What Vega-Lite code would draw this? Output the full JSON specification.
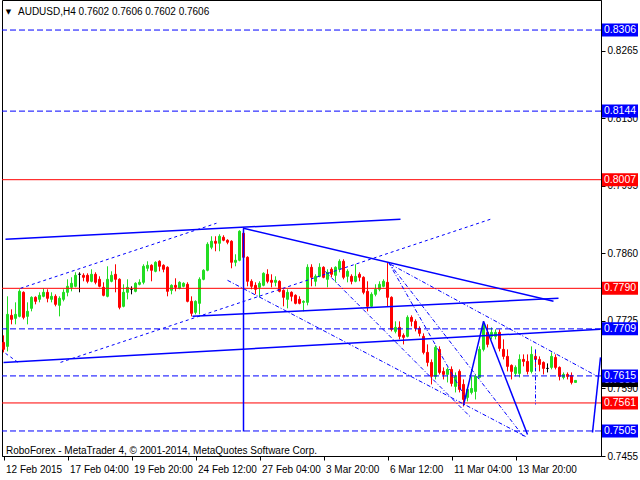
{
  "$schema": "https://vega.github.io/schema/vega-lite/v6.json",
  "width": 599,
  "height": 456,
  "autosize": {"type": "none"},
  "padding": {"left": 2, "top": 0, "right": 39, "bottom": 24},
  "background": "#ffffff",
  "config": {
    "view": {"stroke": "#000000", "strokeWidth": 1},
    "font": "Liberation Sans",
    "axis": {"labelFont": "Liberation Sans", "labelFontSize": 10, "labelColor": "#000000", "tickColor": "#000000", "domainColor": "#000000", "grid": false}
  },
  "datasets": {
    "bars": [
      {"i":0,"o":0.7682,"h":0.7696,"l":0.7662,"c":0.7668},
      {"i":1,"o":0.7674,"h":0.7774,"l":0.7664,"c":0.7738},
      {"i":2,"o":0.7736,"h":0.7748,"l":0.7718,"c":0.7728},
      {"i":3,"o":0.7730,"h":0.7762,"l":0.7718,"c":0.7738},
      {"i":4,"o":0.7734,"h":0.7788,"l":0.7732,"c":0.7784},
      {"i":5,"o":0.7782,"h":0.7784,"l":0.7728,"c":0.7732},
      {"i":6,"o":0.7734,"h":0.7762,"l":0.7718,"c":0.7744},
      {"i":7,"o":0.7750,"h":0.7774,"l":0.7744,"c":0.7772},
      {"i":8,"o":0.7772,"h":0.7774,"l":0.7758,"c":0.7764},
      {"i":9,"o":0.7768,"h":0.7782,"l":0.7762,"c":0.7776},
      {"i":10,"o":0.7774,"h":0.7790,"l":0.7772,"c":0.7782},
      {"i":11,"o":0.7782,"h":0.7788,"l":0.7762,"c":0.7770},
      {"i":12,"o":0.7768,"h":0.7782,"l":0.7762,"c":0.7774},
      {"i":13,"o":0.7774,"h":0.7778,"l":0.7754,"c":0.7758},
      {"i":14,"o":0.7756,"h":0.7774,"l":0.7734,"c":0.7770},
      {"i":15,"o":0.7768,"h":0.7788,"l":0.7764,"c":0.7782},
      {"i":16,"o":0.7782,"h":0.7808,"l":0.7774,"c":0.7794},
      {"i":17,"o":0.7792,"h":0.7812,"l":0.7784,"c":0.7800},
      {"i":18,"o":0.7794,"h":0.7822,"l":0.7792,"c":0.7816},
      {"i":19,"o":0.7818,"h":0.7822,"l":0.7782,"c":0.7818},
      {"i":20,"o":0.7816,"h":0.7820,"l":0.7804,"c":0.7812},
      {"i":21,"o":0.7816,"h":0.7820,"l":0.7800,"c":0.7804},
      {"i":22,"o":0.7804,"h":0.7828,"l":0.7802,"c":0.7818},
      {"i":23,"o":0.7818,"h":0.7822,"l":0.7798,"c":0.7802},
      {"i":24,"o":0.7808,"h":0.7814,"l":0.7792,"c":0.7794},
      {"i":25,"o":0.7792,"h":0.7802,"l":0.7774,"c":0.7776},
      {"i":26,"o":0.7774,"h":0.7834,"l":0.7772,"c":0.7808},
      {"i":27,"o":0.7804,"h":0.7824,"l":0.7802,"c":0.7816},
      {"i":28,"o":0.7818,"h":0.7838,"l":0.7782,"c":0.7808},
      {"i":29,"o":0.7808,"h":0.7810,"l":0.7748,"c":0.7752},
      {"i":30,"o":0.7754,"h":0.7798,"l":0.7752,"c":0.7782},
      {"i":31,"o":0.7782,"h":0.7808,"l":0.7768,"c":0.7792},
      {"i":32,"o":0.7788,"h":0.7794,"l":0.7778,"c":0.7788},
      {"i":33,"o":0.7784,"h":0.7802,"l":0.7782,"c":0.7800},
      {"i":34,"o":0.7798,"h":0.7808,"l":0.7796,"c":0.7802},
      {"i":35,"o":0.7802,"h":0.7838,"l":0.7798,"c":0.7834},
      {"i":36,"o":0.7830,"h":0.7844,"l":0.7824,"c":0.7836},
      {"i":37,"o":0.7836,"h":0.7838,"l":0.7804,"c":0.7826},
      {"i":38,"o":0.7824,"h":0.7844,"l":0.7822,"c":0.7842},
      {"i":39,"o":0.7844,"h":0.7846,"l":0.7824,"c":0.7834},
      {"i":40,"o":0.7836,"h":0.7838,"l":0.7822,"c":0.7828},
      {"i":41,"o":0.7832,"h":0.7834,"l":0.7774,"c":0.7784},
      {"i":42,"o":0.7786,"h":0.7798,"l":0.7778,"c":0.7796},
      {"i":43,"o":0.7796,"h":0.7810,"l":0.7784,"c":0.7792},
      {"i":44,"o":0.7790,"h":0.7804,"l":0.7788,"c":0.7802},
      {"i":45,"o":0.7794,"h":0.7802,"l":0.7792,"c":0.7800},
      {"i":46,"o":0.7798,"h":0.7802,"l":0.7762,"c":0.7764},
      {"i":47,"o":0.7764,"h":0.7774,"l":0.7734,"c":0.7740},
      {"i":48,"o":0.7742,"h":0.7766,"l":0.7738,"c":0.7764},
      {"i":49,"o":0.7760,"h":0.7812,"l":0.7738,"c":0.7808},
      {"i":50,"o":0.7808,"h":0.7828,"l":0.7806,"c":0.7826},
      {"i":51,"o":0.7826,"h":0.7882,"l":0.7824,"c":0.7878},
      {"i":52,"o":0.7872,"h":0.7894,"l":0.7868,"c":0.7884},
      {"i":53,"o":0.7884,"h":0.7894,"l":0.7864,"c":0.7880},
      {"i":54,"o":0.7880,"h":0.7898,"l":0.7864,"c":0.7894},
      {"i":55,"o":0.7892,"h":0.7896,"l":0.7884,"c":0.7886},
      {"i":56,"o":0.7886,"h":0.7888,"l":0.7878,"c":0.7882},
      {"i":57,"o":0.7884,"h":0.7886,"l":0.7830,"c":0.7842},
      {"i":58,"o":0.7842,"h":0.7858,"l":0.7834,"c":0.7846},
      {"i":59,"o":0.7846,"h":0.7906,"l":0.7844,"c":0.7904},
      {"i":60,"o":0.7900,"h":0.7912,"l":0.7848,"c":0.7852},
      {"i":61,"o":0.7852,"h":0.7854,"l":0.7794,"c":0.7804},
      {"i":62,"o":0.7804,"h":0.7808,"l":0.7788,"c":0.7794},
      {"i":63,"o":0.7796,"h":0.7802,"l":0.7778,"c":0.7788},
      {"i":64,"o":0.7792,"h":0.7804,"l":0.7772,"c":0.7800},
      {"i":65,"o":0.7796,"h":0.7822,"l":0.7794,"c":0.7820},
      {"i":66,"o":0.7818,"h":0.7828,"l":0.7800,"c":0.7804},
      {"i":67,"o":0.7806,"h":0.7818,"l":0.7792,"c":0.7802},
      {"i":68,"o":0.7802,"h":0.7814,"l":0.7794,"c":0.7806},
      {"i":69,"o":0.7804,"h":0.7806,"l":0.7782,"c":0.7784},
      {"i":70,"o":0.7786,"h":0.7788,"l":0.7754,"c":0.7772},
      {"i":71,"o":0.7768,"h":0.7788,"l":0.7750,"c":0.7782},
      {"i":72,"o":0.7782,"h":0.7784,"l":0.7764,"c":0.7774},
      {"i":73,"o":0.7776,"h":0.7778,"l":0.7758,"c":0.7760},
      {"i":74,"o":0.7768,"h":0.7774,"l":0.7758,"c":0.7760},
      {"i":75,"o":0.7762,"h":0.7766,"l":0.7744,"c":0.7764},
      {"i":76,"o":0.7762,"h":0.7838,"l":0.7756,"c":0.7832},
      {"i":77,"o":0.7832,"h":0.7838,"l":0.7794,"c":0.7812},
      {"i":78,"o":0.7804,"h":0.7818,"l":0.7794,"c":0.7814},
      {"i":79,"o":0.7814,"h":0.7840,"l":0.7812,"c":0.7832},
      {"i":80,"o":0.7832,"h":0.7834,"l":0.7810,"c":0.7812},
      {"i":81,"o":0.7808,"h":0.7828,"l":0.7792,"c":0.7822},
      {"i":82,"o":0.7828,"h":0.7832,"l":0.7812,"c":0.7818},
      {"i":83,"o":0.7816,"h":0.7834,"l":0.7802,"c":0.7832},
      {"i":84,"o":0.7828,"h":0.7848,"l":0.7822,"c":0.7844},
      {"i":85,"o":0.7844,"h":0.7848,"l":0.7808,"c":0.7812},
      {"i":86,"o":0.7814,"h":0.7828,"l":0.7802,"c":0.7824},
      {"i":87,"o":0.7814,"h":0.7818,"l":0.7798,"c":0.7804},
      {"i":88,"o":0.7804,"h":0.7838,"l":0.7802,"c":0.7814},
      {"i":89,"o":0.7818,"h":0.7822,"l":0.7804,"c":0.7812},
      {"i":90,"o":0.7812,"h":0.7814,"l":0.7778,"c":0.7782},
      {"i":91,"o":0.7784,"h":0.7804,"l":0.7744,"c":0.7754},
      {"i":92,"o":0.7754,"h":0.7782,"l":0.7752,"c":0.7778},
      {"i":93,"o":0.7778,"h":0.7798,"l":0.7774,"c":0.7788},
      {"i":94,"o":0.7788,"h":0.7804,"l":0.7784,"c":0.7798},
      {"i":95,"o":0.7794,"h":0.7808,"l":0.7792,"c":0.7804},
      {"i":96,"o":0.7802,"h":0.7842,"l":0.7754,"c":0.7772},
      {"i":97,"o":0.7772,"h":0.7774,"l":0.7704,"c":0.7708},
      {"i":98,"o":0.7704,"h":0.7724,"l":0.7700,"c":0.7712},
      {"i":99,"o":0.7712,"h":0.7724,"l":0.7688,"c":0.7694},
      {"i":100,"o":0.7696,"h":0.7700,"l":0.7678,"c":0.7692},
      {"i":101,"o":0.7694,"h":0.7736,"l":0.7692,"c":0.7732},
      {"i":102,"o":0.7732,"h":0.7736,"l":0.7714,"c":0.7724},
      {"i":103,"o":0.7724,"h":0.7728,"l":0.7704,"c":0.7710},
      {"i":104,"o":0.7710,"h":0.7714,"l":0.7694,"c":0.7700},
      {"i":105,"o":0.7694,"h":0.7700,"l":0.7658,"c":0.7662},
      {"i":106,"o":0.7662,"h":0.7678,"l":0.7634,"c":0.7642},
      {"i":107,"o":0.7642,"h":0.7648,"l":0.7598,"c":0.7614},
      {"i":108,"o":0.7614,"h":0.7676,"l":0.7608,"c":0.7672},
      {"i":109,"o":0.7668,"h":0.7674,"l":0.7618,"c":0.7622},
      {"i":110,"o":0.7624,"h":0.7632,"l":0.7608,"c":0.7618},
      {"i":111,"o":0.7618,"h":0.7632,"l":0.7602,"c":0.7628},
      {"i":112,"o":0.7628,"h":0.7634,"l":0.7594,"c":0.7600},
      {"i":113,"o":0.7594,"h":0.7622,"l":0.7582,"c":0.7614},
      {"i":114,"o":0.7624,"h":0.7628,"l":0.7582,"c":0.7588},
      {"i":115,"o":0.7598,"h":0.7608,"l":0.7554,"c":0.7568},
      {"i":116,"o":0.7572,"h":0.7592,"l":0.7564,"c":0.7588},
      {"i":117,"o":0.7582,"h":0.7614,"l":0.7578,"c":0.7590},
      {"i":118,"o":0.7584,"h":0.7618,"l":0.7568,"c":0.7614},
      {"i":119,"o":0.7612,"h":0.7674,"l":0.7610,"c":0.7668},
      {"i":120,"o":0.7668,"h":0.7724,"l":0.7664,"c":0.7718},
      {"i":121,"o":0.7702,"h":0.7718,"l":0.7672,"c":0.7678},
      {"i":122,"o":0.7694,"h":0.7712,"l":0.7688,"c":0.7702},
      {"i":123,"o":0.7694,"h":0.7708,"l":0.7688,"c":0.7702},
      {"i":124,"o":0.7702,"h":0.7708,"l":0.7664,"c":0.7670},
      {"i":125,"o":0.7668,"h":0.7688,"l":0.7648,"c":0.7654},
      {"i":126,"o":0.7654,"h":0.7668,"l":0.7624,"c":0.7634},
      {"i":127,"o":0.7636,"h":0.7638,"l":0.7608,"c":0.7624},
      {"i":128,"o":0.7620,"h":0.7636,"l":0.7614,"c":0.7632},
      {"i":129,"o":0.7620,"h":0.7658,"l":0.7612,"c":0.7648},
      {"i":130,"o":0.7648,"h":0.7658,"l":0.7634,"c":0.7644},
      {"i":131,"o":0.7644,"h":0.7658,"l":0.7618,"c":0.7624},
      {"i":132,"o":0.7624,"h":0.7674,"l":0.7620,"c":0.7658},
      {"i":133,"o":0.7654,"h":0.7664,"l":0.7632,"c":0.7648},
      {"i":134,"o":0.7648,"h":0.7654,"l":0.7624,"c":0.7638},
      {"i":135,"o":0.7642,"h":0.7644,"l":0.7618,"c":0.7630},
      {"i":136,"o":0.7630,"h":0.7640,"l":0.7622,"c":0.7630},
      {"i":137,"o":0.7632,"h":0.7662,"l":0.7628,"c":0.7654},
      {"i":138,"o":0.7652,"h":0.7658,"l":0.7628,"c":0.7632},
      {"i":139,"o":0.7632,"h":0.7634,"l":0.7606,"c":0.7614},
      {"i":140,"o":0.7612,"h":0.7622,"l":0.7608,"c":0.7618},
      {"i":141,"o":0.7618,"h":0.7622,"l":0.7608,"c":0.7614},
      {"i":142,"o":0.7616,"h":0.7622,"l":0.7598,"c":0.7602},
      {"i":143,"o":0.7602,"h":0.7606,"l":0.7602,"c":0.7606}
    ],
    "hred": [{"p":0.8007},{"p":0.7790},{"p":0.7561}],
    "hblue": [{"p":0.8306},{"p":0.8144},{"p":0.7709},{"p":0.7615},{"p":0.7505}],
    "tsolid": [
      {"x1":0.5,"y1":0.7888,"x2":99.25,"y2":0.7928},
      {"x1":0,"y1":0.7642,"x2":149.25,"y2":0.7708},
      {"x1":60,"y1":0.7910,"x2":137.5,"y2":0.7764},
      {"x1":47.25,"y1":0.7734,"x2":138.75,"y2":0.7770},
      {"x1":60,"y1":0.7910,"x2":60,"y2":0.7504},
      {"x1":115,"y1":0.7556,"x2":120,"y2":0.7724},
      {"x1":120,"y1":0.7724,"x2":131,"y2":0.7498},
      {"x1":147.25,"y1":0.7502,"x2":149.25,"y2":0.7652}
    ],
    "tdot": [
      {"x1":0.5,"y1":0.7660,"x2":4,"y2":0.7640},
      {"x1":4.25,"y1":0.7790,"x2":53.25,"y2":0.7920},
      {"x1":14.25,"y1":0.7642,"x2":121.75,"y2":0.7928}
    ],
    "tdash": [
      {"x1":56,"y1":0.7806,"x2":130.5,"y2":0.7494},
      {"x1":96.75,"y1":0.7838,"x2":148.5,"y2":0.7614},
      {"x1":96.25,"y1":0.7842,"x2":130,"y2":0.7494},
      {"x1":96.25,"y1":0.7842,"x2":115.75,"y2":0.7568},
      {"x1":80.4,"y1":0.7824,"x2":116.6,"y2":0.7534},
      {"x1":133,"y1":0.7668,"x2":133,"y2":0.7558}
    ],
    "bid": [{"p":0.7606}],
    "levels": [
      {"p":0.8306,"kind":"target"},
      {"p":0.8144,"kind":"target"},
      {"p":0.8007,"kind":"pivot"},
      {"p":0.7790,"kind":"pivot"},
      {"p":0.7709,"kind":"target"},
      {"p":0.7615,"kind":"target"},
      {"p":0.7561,"kind":"pivot"},
      {"p":0.7505,"kind":"target"}
    ]
  },
  "layer": [
    {
      "data": {"name": "bars"},
      "mark": {"type": "rule", "strokeWidth": 1},
      "encoding": {
        "x": {"field": "i", "type": "quantitative", "title": null,
              "scale": {"domain": [-0.375, 149.375], "nice": false, "zero": false, "padding": 0},
              "axis": {"orient": "bottom", "values": [0,16,32,48,64,80,96,112,128], "tickSize": 4, "labelAlign": "left", "labelBaseline": "top", "labelPadding": 4, "labelOffset": 2, "labelOverlap": false, "labelFlush": false,
                       "labelExpr": "datum.value == 0 ? '12 Feb 2015' : datum.value == 16 ? '17 Feb 04:00' : datum.value == 32 ? '19 Feb 20:00' : datum.value == 48 ? '24 Feb 12:00' : datum.value == 64 ? '27 Feb 04:00' : datum.value == 80 ? '3 Mar 20:00' : datum.value == 96 ? '6 Mar 12:00' : datum.value == 112 ? '11 Mar 04:00' : '13 Mar 20:00'"}},
        "y": {"field": "l", "type": "quantitative", "title": null,
              "scale": {"domain": [0.7455, 0.8366], "nice": false, "zero": false, "padding": 0},
              "axis": {"orient": "right", "values": [0.8335,0.8265,0.8200,0.8130,0.8060,0.7995,0.7925,0.7860,0.7790,0.7725,0.7655,0.7590,0.7520,0.7455], "format": ".4f", "tickSize": 4, "labelPadding": 2, "labelOverlap": false, "labelFlush": false}},
        "y2": {"field": "h"},
        "color": {"condition": [{"test": "datum.c > datum.o", "value": "#22dd22"}, {"test": "datum.c < datum.o", "value": "#ff0000"}], "value": "#000000"}
      }
    },
    {
      "data": {"name": "bars"},
      "mark": {"type": "bar", "size": 2, "strokeWidth": 1},
      "encoding": {
        "x": {"field": "i", "type": "quantitative", "title": null},
        "y": {"field": "o", "type": "quantitative", "title": null},
        "y2": {"field": "c"},
        "color": {"condition": [{"test": "datum.c > datum.o", "value": "#22dd22"}, {"test": "datum.c < datum.o", "value": "#ff0000"}], "value": "#000000"},
        "stroke": {"condition": [{"test": "datum.c > datum.o", "value": "#22dd22"}, {"test": "datum.c < datum.o", "value": "#ff0000"}], "value": "#000000"}
      }
    },
    {
      "data": {"name": "hred"},
      "mark": {"type": "rule", "color": "#ff0000", "strokeWidth": 1},
      "encoding": {"y": {"field": "p", "type": "quantitative", "title": null}}
    },
    {
      "data": {"name": "hblue"},
      "mark": {"type": "rule", "color": "#0000ff", "strokeWidth": 1, "strokeDash": [6, 3]},
      "encoding": {"y": {"field": "p", "type": "quantitative", "title": null}}
    },
    {
      "data": {"name": "tsolid"},
      "mark": {"type": "rule", "color": "#0000ff", "strokeWidth": 1.5},
      "encoding": {
        "x": {"field": "x1", "type": "quantitative", "title": null},
        "y": {"field": "y1", "type": "quantitative", "title": null},
        "x2": {"field": "x2"}, "y2": {"field": "y2"}
      }
    },
    {
      "data": {"name": "tdot"},
      "mark": {"type": "rule", "color": "#0000ff", "strokeWidth": 1, "strokeDash": [3, 3]},
      "encoding": {
        "x": {"field": "x1", "type": "quantitative", "title": null},
        "y": {"field": "y1", "type": "quantitative", "title": null},
        "x2": {"field": "x2"}, "y2": {"field": "y2"}
      }
    },
    {
      "data": {"name": "tdash"},
      "mark": {"type": "rule", "color": "#0000ff", "strokeWidth": 1, "strokeDash": [4, 2, 1, 2]},
      "encoding": {
        "x": {"field": "x1", "type": "quantitative", "title": null},
        "y": {"field": "y1", "type": "quantitative", "title": null},
        "x2": {"field": "x2"}, "y2": {"field": "y2"}
      }
    },
    {
      "data": {"name": "bid"},
      "mark": {"type": "bar", "size": 13, "color": "#000000"},
      "encoding": {
        "x": {"datum": 149.625, "type": "quantitative"},
        "x2": {"datum": 158.625},
        "y": {"field": "p", "type": "quantitative", "title": null}
      }
    },
    {
      "data": {"name": "bid"},
      "mark": {"type": "text", "color": "#ffffff", "align": "left", "baseline": "middle", "font": "Liberation Sans", "fontSize": 10.5},
      "encoding": {
        "x": {"datum": 150.125, "type": "quantitative"},
        "y": {"field": "p", "type": "quantitative", "title": null},
        "text": {"field": "p", "type": "quantitative", "format": ".4f"}
      }
    },
    {
      "data": {"name": "levels"},
      "mark": {"type": "bar", "size": 13},
      "encoding": {
        "x": {"datum": 149.625, "type": "quantitative"},
        "x2": {"datum": 158.625},
        "y": {"field": "p", "type": "quantitative", "title": null},
        "color": {"field": "kind", "type": "nominal", "legend": null, "scale": {"domain": ["target", "pivot"], "range": ["#0000ff", "#ff0000"]}}
      }
    },
    {
      "data": {"name": "levels"},
      "mark": {"type": "text", "color": "#ffffff", "align": "left", "baseline": "middle", "font": "Liberation Sans", "fontSize": 10.5},
      "encoding": {
        "x": {"datum": 150.125, "type": "quantitative"},
        "y": {"field": "p", "type": "quantitative", "title": null},
        "text": {"field": "p", "type": "quantitative", "format": ".4f"}
      }
    },
    {
      "data": {"values": [{}]},
      "mark": {"type": "text", "text": "▼", "color": "#000000", "align": "center", "baseline": "middle", "fontSize": 7, "font": "DejaVu Sans"},
      "encoding": {"x": {"datum": 1.25, "type": "quantitative"}, "y": {"datum": 0.8342, "type": "quantitative"}}
    },
    {
      "data": {"values": [{}]},
      "mark": {"type": "text", "text": "AUDUSD,H4  0.7602 0.7606 0.7602 0.7606", "color": "#000000", "align": "left", "baseline": "middle", "fontSize": 10, "font": "Liberation Sans"},
      "encoding": {"x": {"datum": 3.625, "type": "quantitative"}, "y": {"datum": 0.8342, "type": "quantitative"}}
    },
    {
      "data": {"values": [{}]},
      "mark": {"type": "text", "text": "RoboForex - MetaTrader 4, © 2001-2014, MetaQuotes Software Corp.", "color": "#000000", "align": "left", "baseline": "middle", "fontSize": 10, "font": "Liberation Sans"},
      "encoding": {"x": {"datum": 0.625, "type": "quantitative"}, "y": {"datum": 0.7465, "type": "quantitative"}}
    }
  ]
}
